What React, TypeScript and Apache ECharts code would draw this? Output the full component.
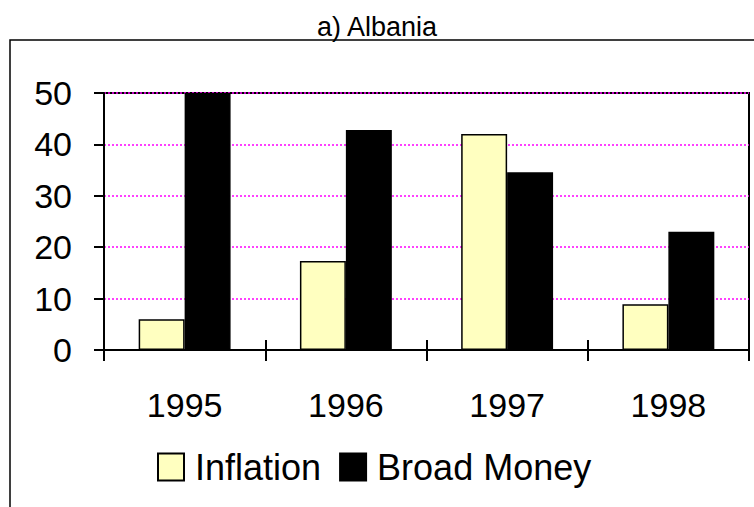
import React, { useEffect, useRef } from "react";
import * as echarts from "echarts";

const categories = ["1995", "1996", "1997", "1998"];
const inflation = [6.0, 17.3, 42.0, 8.9];
const broadMoney = [50, 42.8, 34.6, 23.0];
const yTicks = { min: 0, max: 50, interval: 10 };

const FONT = "'Liberation Sans', Arial, sans-serif";

export default function App() {
  const ref = useRef<HTMLDivElement>(null);
  useEffect(() => {
    if (!ref.current) return;
    const chart = echarts.init(ref.current, undefined, { renderer: "svg" });
    chart.setOption({
      animation: false,
      backgroundColor: "#ffffff",
      title: {
        text: "a) Albania",
        left: "center",
        top: 8,
        textStyle: { fontFamily: FONT, fontSize: 27, fontWeight: "normal", color: "#000" },
      },
      graphic: [
        {
          type: "rect",
          shape: { x: 10, y: 40, width: 800, height: 520 },
          style: { fill: "none", stroke: "#000", lineWidth: 1.5 },
          silent: true,
        },
      ],
      legend: {
        left: 152,
        top: 444,
        itemWidth: 26,
        itemHeight: 27,
        itemGap: 18,
        icon: "rect",
        textStyle: { fontFamily: FONT, fontSize: 36, color: "#000", padding: [0, 0, 0, 6] },
        data: ["Inflation", "Broad Money"],
      },
      grid: {
        left: 104,
        top: 93,
        right: 5,
        bottom: 157,
        show: true,
        borderColor: "#000",
        borderWidth: 2,
        backgroundColor: "transparent",
      },
      xAxis: [
        {
          type: "category",
          data: categories,
          boundaryGap: true,
          axisLine: { show: true, lineStyle: { color: "#000", width: 2 } },
          axisTick: { show: true, inside: false, length: 11, lineStyle: { color: "#000", width: 2 } },
          axisLabel: { fontFamily: FONT, fontSize: 34, color: "#000", margin: 38 },
        },
        {
          type: "category",
          data: categories,
          position: "bottom",
          boundaryGap: true,
          axisLine: { show: false },
          axisTick: { show: true, inside: true, length: 10, lineStyle: { color: "#000", width: 2 } },
          axisLabel: { show: false },
        },
      ],
      yAxis: {
        type: "value",
        min: yTicks.min,
        max: yTicks.max,
        interval: yTicks.interval,
        axisLine: { show: true, lineStyle: { color: "#000", width: 2 } },
        axisTick: { show: true, inside: false, length: 10, lineStyle: { color: "#000", width: 2 } },
        axisLabel: { fontFamily: FONT, fontSize: 34, color: "#000", margin: 32 },
        splitLine: { show: true, lineStyle: { color: "#FF00FF", type: [2, 2], width: 1.5 } },
      },
      series: [
        {
          name: "Inflation",
          type: "bar",
          xAxisIndex: 0,
          data: inflation,
          barGap: "0%",
          barCategoryGap: "43%",
          itemStyle: { color: "#FFFFC0", borderColor: "#000", borderWidth: 1.5 },
        },
        {
          name: "Broad Money",
          type: "bar",
          xAxisIndex: 0,
          data: broadMoney,
          barGap: "0%",
          barCategoryGap: "43%",
          itemStyle: { color: "#000", borderColor: "#000", borderWidth: 1.5 },
        },
      ],
    });
    return () => chart.dispose();
  }, []);
  return <div ref={ref} style={{ width: 754, height: 507, position: "absolute", left: 0, top: 0 }} />;
}
